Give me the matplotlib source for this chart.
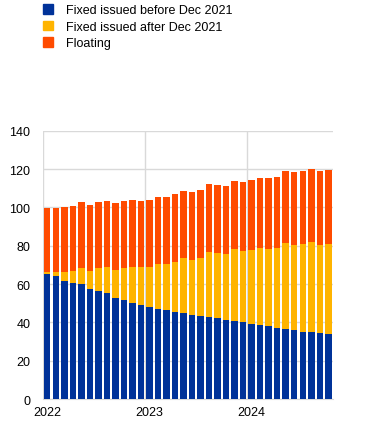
import numpy as np
import matplotlib.pyplot as plt
from matplotlib.patches import Patch

plt.rcParams['font.family'] = ['Liberation Sans', 'DejaVu Sans']

# monthly, Jan 2022 - Oct 2024
fixed_before = [65.2, 64.2, 61.6, 60.5, 60.0, 57.4, 56.3, 55.3, 52.7, 51.6, 50.1, 49.0,
                48.0, 47.0, 46.4, 45.4, 44.9, 43.8, 43.3, 42.8, 42.3, 41.2, 40.7, 40.2,
                39.1, 38.6, 38.1, 37.0, 36.5, 36.0, 35.0, 35.0, 34.4, 33.9]
fixed_after_top = [66.3, 66.3, 66.3, 66.8, 68.3, 66.8, 68.3, 68.9, 67.3, 68.3, 68.9, 68.9,
                   68.9, 70.4, 70.4, 71.5, 73.6, 72.5, 73.6, 76.7, 76.2, 75.6, 78.3, 77.2,
                   77.7, 78.8, 78.3, 78.8, 81.4, 80.3, 80.9, 81.9, 80.3, 80.9]
total = [99.6, 99.8, 100.2, 100.7, 102.8, 101.2, 102.8, 103.3, 102.3, 103.3, 103.8, 103.3,
         103.8, 105.4, 105.4, 106.9, 108.5, 108.0, 109.0, 112.2, 111.6, 111.1, 113.7, 113.2,
         114.3, 115.3, 115.3, 115.8, 118.9, 118.4, 118.9, 120.0, 118.9, 119.5]
year_labels = ['2022', '2023', '2024']
labels = ['Fixed issued before Dec 2021', 'Fixed issued after Dec 2021', 'Floating']
colors = ['#003299', '#ffb400', '#ff4b00']

fixed_before = np.array(fixed_before)
fixed_after = np.array(fixed_after_top) - fixed_before
floating = np.array(total) - np.array(fixed_after_top)
x = np.arange(len(fixed_before))

fig = plt.figure(figsize=(3.72, 4.39), dpi=100)
ax = fig.add_axes([0.1156, 0.0888, 0.7784, 0.6112])

w = 0.76
ax.bar(x, fixed_before, w, color=colors[0], zorder=3)
ax.bar(x, fixed_after, w, bottom=fixed_before, color=colors[1], zorder=3)
ax.bar(x, floating, w, bottom=fixed_before + fixed_after, color=colors[2], zorder=3)

ax.set_xlim(-0.5, len(x) - 0.5)
ax.set_ylim(0, 140)
ax.set_yticks(np.arange(0, 141, 20))
ax.yaxis.grid(True, color='#d9d9d9', linewidth=1, zorder=0)
for xv in [-0.5, 11.5, 23.5]:
    ax.axvline(xv, color='#d9d9d9', linewidth=1, zorder=0)
ax.set_xticks([0, 12, 24])
ax.set_xticklabels(year_labels)
ax.tick_params(axis='both', length=0, labelsize=9)
ax.tick_params(axis='y', pad=9)
ax.tick_params(axis='x', pad=5)
for s in ['top', 'right', 'left']:
    ax.spines[s].set_visible(False)
ax.spines['bottom'].set_color('#d9d9d9')

handles = [Patch(color=c) for c in colors]
fig.legend(handles, labels, loc='upper left', bbox_to_anchor=(0.103, 1.0),
           frameon=False, fontsize=9, handlelength=0.8, handleheight=0.8,
           handletextpad=1.0, labelspacing=0.35, borderaxespad=0)

plt.savefig('out.png', dpi=100)
